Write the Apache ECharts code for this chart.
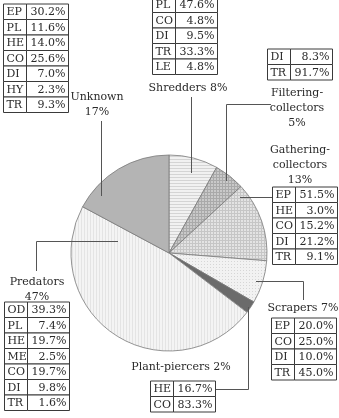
<!DOCTYPE html>
<html>
<head>
<meta charset="utf-8">
<script src="https://cdn.jsdelivr.net/npm/echarts@6/dist/echarts.min.js"></script>
<style>
html,body{margin:0;padding:0;background:#fff;}
#chart{width:339px;height:418px;}
</style>
</head>
<body>
<div id="chart"></div>
<script>
// ---- data ----
const categories = ['Shredders', 'Filtering-collectors', 'Gathering-collectors', 'Scrapers', 'Plant-piercers', 'Predators', 'Unknown'];
const shares = [8, 5, 13, 7, 2, 47, 17];
const labelTexts = ['Shredders 8%', 'Filtering-\ncollectors\n5%', 'Gathering-\ncollectors\n13%', 'Scrapers 7%', 'Plant-piercers 2%', 'Predators\n47%', 'Unknown\n17%'];

const shredderCodes = ['PL', 'CO', 'DI', 'TR', 'LE'];
const shredderPct = [47.6, 4.8, 9.5, 33.3, 4.8];
const filteringCodes = ['DI', 'TR'];
const filteringPct = [8.3, 91.7];
const gatheringCodes = ['EP', 'HE', 'CO', 'DI', 'TR'];
const gatheringPct = [51.5, 3.0, 15.2, 21.2, 9.1];
const scraperCodes = ['EP', 'CO', 'DI', 'TR'];
const scraperPct = [20.0, 25.0, 10.0, 45.0];
const piercerCodes = ['HE', 'CO'];
const piercerPct = [16.7, 83.3];
const predatorCodes = ['OD', 'PL', 'HE', 'ME', 'CO', 'DI', 'TR'];
const predatorPct = [39.3, 7.4, 19.7, 2.5, 19.7, 9.8, 1.6];
const unknownCodes = ['EP', 'PL', 'HE', 'CO', 'DI', 'HY', 'TR'];
const unknownPct = [30.2, 11.6, 14.0, 25.6, 7.0, 2.3, 9.3];

// ---- patterns ----
function pattern(size, bg, draw) {
  const c = document.createElement('canvas');
  c.width = size; c.height = size;
  const g = c.getContext('2d');
  g.fillStyle = bg; g.fillRect(0, 0, size, size);
  draw(g);
  return { image: c, repeat: 'repeat' };
}
const fills = [
  pattern(3, '#f1f1f1', g => { g.fillStyle = '#d4d4d4'; g.fillRect(0, 0, 3, 1); }),
  pattern(3, '#c9c9c9', g => { g.fillStyle = '#a9a9a9'; g.fillRect(0, 0, 3, 1); g.fillRect(0, 0, 1, 3); }),
  pattern(3, '#e3e3e3', g => { g.fillStyle = '#c6c6c6'; g.fillRect(0, 0, 3, 1); g.fillRect(0, 0, 1, 3); }),
  pattern(3, '#f2f2f2', g => { g.fillStyle = '#d6d6d6'; g.fillRect(0, 0, 1, 1); }),
  '#6b6b6b',
  pattern(3, '#f4f4f4', g => { g.fillStyle = '#e4e4e4'; g.fillRect(0, 0, 1, 3); }),
  '#b4b4b4'
];

// ---- layout (annotations) ----
const FONT = '"DejaVu Serif", serif';
const TEXT = '#2a2a2a';
const LINE = '#555';
const ROW = 15.5, C1 = 23, C2 = 42;

function table(x, y, codes, pcts) {
  const els = [];
  codes.forEach((code, i) => {
    const top = y + i * ROW;
    els.push({ type: 'rect', shape: { x: x, y: top, width: C1, height: ROW }, style: { fill: '#fff', stroke: '#3a3a3a', lineWidth: 1 } });
    els.push({ type: 'rect', shape: { x: x + C1, y: top, width: C2, height: ROW }, style: { fill: '#fff', stroke: '#3a3a3a', lineWidth: 1 } });
    els.push({ type: 'text', x: x + 3, y: top + ROW / 2 + 0.5, style: { text: code, font: '11px ' + FONT, fill: TEXT, align: 'left', verticalAlign: 'middle' } });
    els.push({ type: 'text', x: x + C1 + C2 - 3, y: top + ROW / 2 + 0.5, style: { text: pcts[i].toFixed(1) + '%', font: '11px ' + FONT, fill: TEXT, align: 'right', verticalAlign: 'middle' } });
  });
  return els;
}
function label(x, y, text) {
  return { type: 'text', x: x, y: y, style: { text: text, font: '11px ' + FONT, fill: TEXT, align: 'center', verticalAlign: 'top', lineHeight: 15 } };
}
function leader(points) {
  return { type: 'polyline', shape: { points: points }, style: { stroke: LINE, lineWidth: 1, fill: null }, z: 10 };
}

const graphics = [].concat(
  table(3.5, 4, unknownCodes, unknownPct),
  table(152.5, -3, shredderCodes, shredderPct),
  table(267.5, 49, filteringCodes, filteringPct),
  table(272.5, 187, gatheringCodes, gatheringPct),
  table(271.5, 318, scraperCodes, scraperPct),
  table(150.5, 381, piercerCodes, piercerPct),
  table(4.5, 302, predatorCodes, predatorPct),
  [
    label(97, 90, labelTexts[6]),
    label(188, 81, labelTexts[0]),
    label(297, 86, labelTexts[1]),
    label(300, 143, labelTexts[2]),
    label(303, 301, labelTexts[3]),
    label(181, 360, labelTexts[4]),
    label(37, 275, labelTexts[5]),
    leader([[101.5, 121], [101.5, 196]]),
    leader([[191.5, 97], [191.5, 173]]),
    leader([[226.5, 181], [226.5, 104.5], [271, 104.5]]),
    leader([[240, 197.5], [272, 197.5]]),
    leader([[256, 281.5], [303.5, 281.5], [303.5, 300]]),
    leader([[248.5, 307], [248.5, 389.5], [216, 389.5]]),
    leader([[118, 241.5], [36.5, 241.5], [36.5, 271]])
  ]
);

const chart = echarts.init(document.getElementById('chart'), null, { renderer: 'canvas' });
chart.setOption({
  backgroundColor: '#fff',
  animation: false,
  series: [{
    type: 'pie',
    center: [169, 253],
    radius: 98,
    startAngle: 90,
    clockwise: true,
    label: { show: false },
    labelLine: { show: false },
    emphasis: { disabled: true },
    itemStyle: { borderColor: '#7a7a7a', borderWidth: 0.8 },
    data: categories.map((name, i) => ({ name: name, value: shares[i], itemStyle: { color: fills[i] } }))
  }],
  graphic: { elements: graphics }
});
</script>
</body>
</html>
